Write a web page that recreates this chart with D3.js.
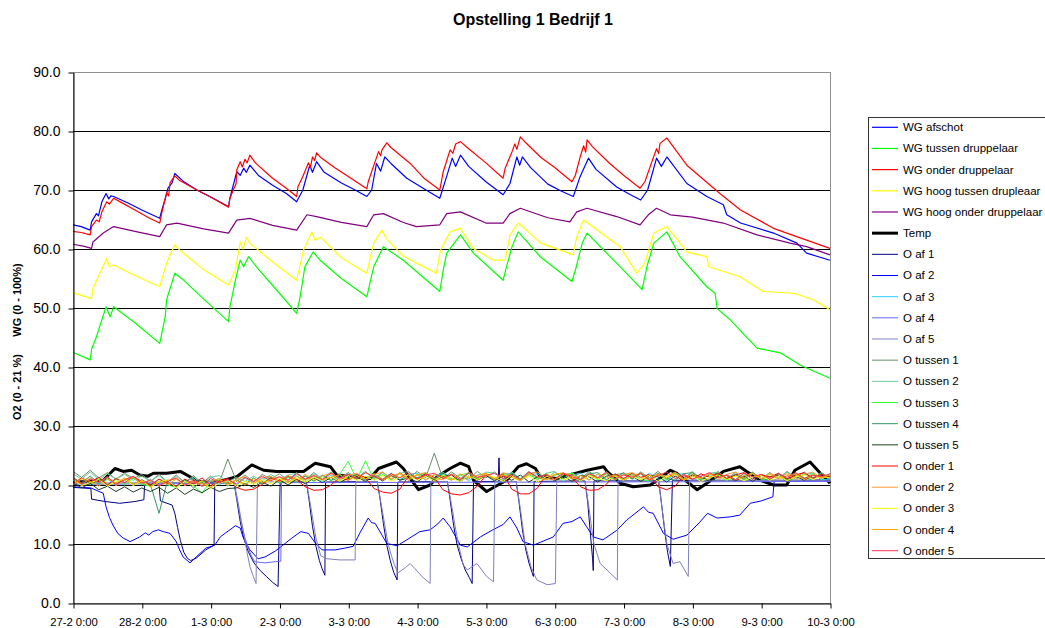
<!DOCTYPE html>
<html>
<head>
<meta charset="utf-8">
<script src="https://cdn.jsdelivr.net/npm/d3@7"></script>
<style>
body { margin: 0; background: #fff; }
text { font-family: Arial, "Liberation Sans", sans-serif; }
</style>
</head>
<body>
<svg id="chart" width="1045" height="628"></svg>
<script>
// times are in days after 27-2 0:00
var wgAfschot = [[0,64.1],[0.12,63.8],[0.25,63.2],[0.27,64.6],[0.34,66.0],[0.37,65.6],[0.42,68.0],[0.48,69.4],[0.52,68.5],[0.55,69.0],[0.59,68.9],[0.8,67.8],[1.0,66.6],[1.26,65.2],[1.29,66.6],[1.34,68.5],[1.38,70.3],[1.44,71.2],[1.48,72.8],[1.6,71.5],[1.8,70.0],[2.0,68.8],[2.26,67.2],[2.28,68.6],[2.38,73.1],[2.43,72.5],[2.48,73.7],[2.52,73.0],[2.57,74.2],[2.7,72.4],[2.9,70.8],[3.1,69.4],[3.25,68.0],[3.34,70.0],[3.44,74.2],[3.48,73.0],[3.54,74.8],[3.65,73.0],[3.9,71.2],[4.1,70.0],[4.27,68.9],[4.34,70.0],[4.41,74.5],[4.47,73.2],[4.53,75.6],[4.62,74.5],[4.85,72.0],[5.1,70.2],[5.33,68.6],[5.43,72.3],[5.51,75.4],[5.56,74.0],[5.63,75.9],[5.75,74.0],[6.0,71.4],[6.25,69.2],[6.35,71.1],[6.45,75.6],[6.49,74.2],[6.53,75.6],[6.65,73.8],[6.9,71.0],[7.1,69.8],[7.27,68.9],[7.37,72.3],[7.49,75.4],[7.6,73.5],[7.9,70.5],[8.1,69.2],[8.25,68.3],[8.35,70.0],[8.48,75.4],[8.55,74.0],[8.63,75.6],[8.92,71.1],[9.21,68.9],[9.45,67.5],[9.5,65.8],[9.7,64.4],[10.18,62.7],[10.52,61.0],[10.66,59.3],[11.0,58.1]];
var wgTussen = [[0,42.5],[0.25,41.2],[0.27,43.0],[0.34,45.1],[0.42,48.0],[0.48,50.2],[0.54,48.5],[0.59,50.2],[0.9,47.5],[1.26,44.0],[1.34,48.5],[1.36,51.4],[1.48,55.9],[1.6,54.8],[1.9,51.5],[2.26,47.7],[2.28,50.2],[2.36,54.7],[2.43,58.1],[2.48,57.0],[2.55,58.7],[2.7,56.5],[3.0,52.5],[3.25,49.1],[3.3,51.9],[3.37,57.0],[3.49,59.5],[3.6,58.0],[3.9,55.0],[4.27,51.9],[4.37,57.0],[4.51,60.4],[4.8,58.1],[5.33,52.8],[5.38,56.4],[5.43,59.3],[5.63,62.4],[5.82,59.3],[6.25,54.7],[6.3,57.0],[6.38,60.4],[6.47,62.9],[6.79,58.7],[7.25,54.5],[7.3,56.4],[7.4,61.0],[7.47,62.7],[7.95,57.0],[8.27,53.1],[8.34,57.0],[8.44,61.0],[8.63,62.9],[8.82,58.7],[9.21,53.6],[9.33,52.5],[9.36,49.9],[9.55,48.0],[9.94,43.2],[10.28,42.4],[10.57,40.3],[11.0,38.1]];
var wgOnder = [[0,63.0],[0.12,62.8],[0.25,62.4],[0.27,63.8],[0.34,64.9],[0.38,64.6],[0.42,66.3],[0.49,68.0],[0.53,67.6],[0.59,68.6],[0.7,67.9],[0.9,66.6],[1.1,65.3],[1.26,64.4],[1.29,66.1],[1.36,69.5],[1.39,69.0],[1.41,71.2],[1.48,72.4],[1.55,71.6],[1.8,70.0],[2.0,68.8],[2.26,67.1],[2.28,68.6],[2.37,71.1],[2.38,73.4],[2.43,74.8],[2.46,73.9],[2.5,75.2],[2.53,74.6],[2.57,75.9],[2.65,74.6],[2.9,72.0],[3.1,70.3],[3.25,68.9],[3.27,70.6],[3.34,72.3],[3.42,74.6],[3.45,73.8],[3.48,75.6],[3.51,75.0],[3.54,76.3],[3.6,75.5],[3.8,73.8],[4.0,72.3],[4.27,70.2],[4.29,71.4],[4.39,74.8],[4.44,76.5],[4.47,75.8],[4.49,76.8],[4.56,78.0],[4.62,77.2],[4.9,74.5],[5.1,72.0],[5.33,70.0],[5.38,73.1],[5.48,76.8],[5.52,76.2],[5.56,77.8],[5.63,78.2],[5.75,77.0],[6.0,74.6],[6.25,72.0],[6.28,73.7],[6.38,76.5],[6.42,77.8],[6.45,76.9],[6.5,79.0],[6.58,78.0],[6.8,75.5],[7.0,73.8],[7.25,71.4],[7.3,72.5],[7.37,75.6],[7.42,77.5],[7.45,76.4],[7.47,78.5],[7.55,77.3],[7.8,74.5],[8.0,72.5],[8.24,70.3],[8.31,71.4],[8.43,75.4],[8.48,77.0],[8.51,76.2],[8.53,77.9],[8.63,78.8],[8.92,74.2],[9.4,69.4],[9.7,66.6],[10.18,63.5],[10.66,61.5],[11.0,60.1]];
var wgHoogTussen = [[0,52.6],[0.27,51.6],[0.29,53.3],[0.39,55.9],[0.49,58.4],[0.53,57.0],[0.59,57.3],[0.9,55.5],[1.26,53.6],[1.36,57.6],[1.43,59.5],[1.48,60.7],[1.55,59.8],[1.9,56.5],[2.26,53.9],[2.36,56.4],[2.43,61.2],[2.47,60.0],[2.52,62.0],[2.57,61.0],[2.9,57.8],[3.25,54.7],[3.35,59.8],[3.47,62.9],[3.52,61.5],[3.6,62.0],[3.9,58.5],[4.27,55.9],[4.37,61.0],[4.49,63.2],[4.55,61.8],[4.8,58.8],[4.99,57.6],[5.28,55.9],[5.34,59.8],[5.48,62.9],[5.63,63.5],[5.82,60.1],[6.11,58.1],[6.28,58.1],[6.35,62.4],[6.47,64.4],[6.8,61.0],[7.27,59.0],[7.32,62.1],[7.42,64.9],[7.95,60.4],[8.19,55.9],[8.31,57.6],[8.44,62.7],[8.63,63.8],[8.92,59.5],[9.21,58.7],[9.24,57.0],[9.69,55.3],[10.03,52.8],[10.47,52.5],[10.76,51.4],[11.0,49.7]];
var wgHoogOnder = [[0,60.8],[0.15,60.5],[0.27,60.1],[0.29,61.2],[0.44,62.7],[0.59,63.8],[0.9,63.0],[1.26,62.1],[1.36,64.1],[1.51,64.4],[1.9,63.4],[2.26,62.7],[2.38,64.9],[2.57,65.2],[2.9,64.0],[3.25,63.2],[3.4,65.8],[3.54,65.5],[3.9,64.5],[4.27,63.8],[4.37,65.8],[4.51,66.0],[4.8,64.5],[4.99,63.8],[5.33,64.1],[5.43,66.0],[5.63,66.3],[6.0,64.4],[6.25,64.4],[6.35,66.0],[6.5,66.9],[6.9,65.3],[7.22,64.6],[7.32,66.3],[7.47,66.9],[7.9,65.5],[8.24,64.1],[8.36,65.8],[8.48,66.9],[8.68,65.8],[9.0,65.4],[9.45,64.4],[9.94,62.4],[10.42,61.0],[10.66,60.4],[11.0,59.0]];
var temp = [[0,20.5],[0.25,20.6],[0.44,20.8],[0.61,22.8],[0.73,22.3],[0.85,22.5],[0.97,21.7],[1.09,21.5],[1.17,22.0],[1.36,22.0],[1.56,22.3],[1.7,21.4],[1.8,20.6],[2.06,20.4],[2.38,21.4],[2.6,23.4],[2.77,22.5],[2.96,22.3],[3.35,22.3],[3.52,23.7],[3.74,23.1],[3.83,21.7],[4.32,21.1],[4.44,22.8],[4.7,23.9],[4.8,22.8],[4.9,21.1],[5.02,19.2],[5.19,20.0],[5.29,21.4],[5.48,22.8],[5.63,23.7],[5.75,23.1],[5.82,20.8],[6.01,18.9],[6.13,19.7],[6.3,20.8],[6.47,23.1],[6.59,23.6],[6.72,22.8],[6.79,21.4],[7.03,21.1],[7.47,22.5],[7.71,23.1],[7.76,22.3],[7.95,20.3],[8.14,19.7],[8.39,20.0],[8.56,21.4],[8.68,22.5],[8.77,22.0],[8.92,20.6],[9.07,19.2],[9.21,20.3],[9.45,22.3],[9.69,23.1],[9.79,22.3],[9.99,20.8],[10.18,20.0],[10.37,20.0],[10.49,22.5],[10.71,23.9],[10.86,22.0],[11.0,20.3]];

var oAf1 = [[0,19.6],[0.26,19.4],[0.27,17.6],[0.47,17.2],[0.68,16.9],[0.9,17.2],[1.03,17.5],[1.04,20.0],[1.25,20.2],[1.27,17.3],[1.44,16.6],[1.48,15.2],[1.52,12.8],[1.56,10.6],[1.61,8.6],[1.66,7.6],[1.71,7.2],[1.79,7.6],[1.93,9.0],[2.05,9.8],[2.06,20.3],[2.34,20.4],[2.38,17.5],[2.43,13.8],[2.48,11.0],[2.55,8.6],[2.63,6.8],[2.72,5.5],[2.81,4.5],[2.9,3.5],[2.98,2.8],[3.01,20.5],[3.39,20.6],[3.43,17.5],[3.48,13.0],[3.53,9.6],[3.58,7.2],[3.62,5.8],[3.66,4.7],[3.67,20.5],[4.42,20.6],[4.46,17.8],[4.51,13.5],[4.56,9.8],[4.61,7.2],[4.66,5.2],[4.71,3.9],[4.72,20.5],[5.44,20.6],[5.48,17.5],[5.53,13.2],[5.58,9.9],[5.64,7.5],[5.7,5.6],[5.76,4.3],[5.8,3.3],[5.82,20.6],[6.18,20.6],[6.19,24.6],[6.2,20.6],[6.44,20.6],[6.48,17.2],[6.53,12.5],[6.58,9.0],[6.63,6.6],[6.69,4.5],[6.7,20.6],[7.44,20.7],[7.48,17.0],[7.52,11.5],[7.55,7.5],[7.56,5.5],[7.57,20.7],[8.51,20.7],[8.55,17.0],[8.6,12.0],[8.64,8.6],[8.68,6.2],[8.71,20.8],[11.0,20.8]];
var oAf2 = [[0,19.7],[0.26,19.5],[0.44,18.6],[0.48,16.3],[0.53,14.5],[0.58,13.2],[0.65,11.8],[0.73,11.0],[0.83,10.4],[0.97,11.2],[1.05,11.9],[1.1,11.5],[1.16,12.1],[1.24,12.4],[1.31,12.1],[1.41,11.8],[1.5,10.4],[1.55,9.0],[1.6,7.8],[1.7,6.8],[1.79,7.8],[1.93,9.3],[2.06,9.8],[2.14,11.2],[2.22,11.9],[2.28,12.4],[2.36,13.1],[2.43,12.7],[2.47,11.2],[2.57,9.0],[2.69,7.5],[2.79,7.8],[2.94,8.8],[3.05,9.8],[3.18,11.0],[3.31,12.1],[3.42,11.8],[3.52,10.2],[3.62,9.0],[3.81,9.0],[3.95,9.3],[4.07,9.6],[4.17,11.9],[4.29,14.4],[4.34,13.6],[4.39,13.5],[4.49,11.5],[4.56,10.1],[4.71,9.7],[4.85,10.7],[5.04,12.1],[5.19,12.4],[5.3,13.4],[5.38,14.4],[5.48,12.9],[5.63,9.8],[5.73,9.5],[5.92,11.2],[6.1,12.4],[6.25,13.3],[6.35,14.6],[6.45,12.7],[6.54,10.4],[6.69,9.8],[6.98,11.2],[7.12,13.5],[7.25,13.8],[7.37,14.6],[7.46,13.0],[7.56,11.2],[7.7,10.7],[7.9,12.3],[8.05,14.1],[8.29,16.3],[8.36,15.4],[8.43,15.2],[8.58,11.8],[8.72,10.8],[8.92,11.5],[9.1,13.6],[9.22,15.2],[9.36,14.4],[9.55,14.6],[9.69,14.9],[9.84,16.9],[10.0,17.3],[10.17,18.0],[10.19,20.8],[10.57,20.6],[11.0,21.0]];
var oAf4 = [[0,20.1],[2.34,20.3],[2.39,17.2],[2.44,14.0],[2.49,11.4],[2.54,9.5],[2.6,7.8],[2.64,7.0],[2.79,6.8],[2.94,7.0],[3.02,7.1],[3.03,20.4],[11.0,20.6]];
var oAf5 = [[0,20.3],[2.34,20.5],[2.4,17.0],[2.45,13.6],[2.49,11.2],[2.53,8.5],[2.57,6.2],[2.62,4.5],[2.66,3.3],[2.68,20.5],[3.39,20.6],[3.46,16.0],[3.53,11.0],[3.6,8.0],[3.69,7.5],[3.88,7.3],[4.1,7.3],[4.11,20.6],[4.42,20.6],[4.49,16.0],[4.54,12.6],[4.58,10.0],[4.63,7.9],[4.67,6.5],[4.72,5.1],[4.83,6.0],[4.9,6.7],[4.97,5.8],[5.07,4.5],[5.19,3.3],[5.2,20.6],[5.44,20.6],[5.51,16.0],[5.56,12.5],[5.6,10.0],[5.67,6.5],[5.73,5.6],[5.87,6.7],[6.01,4.5],[6.11,3.6],[6.13,20.6],[6.44,20.6],[6.5,16.0],[6.54,12.6],[6.57,10.0],[6.66,6.0],[6.74,3.9],[6.89,3.1],[7.01,3.3],[7.03,20.6],[7.44,20.7],[7.5,16.0],[7.54,12.4],[7.57,10.0],[7.66,6.7],[7.76,5.6],[7.91,3.9],[7.92,20.7],[8.51,20.7],[8.56,16.0],[8.63,10.0],[8.72,6.7],[8.82,7.0],[8.94,4.5],[8.96,20.7],[11.0,20.8]];

// logged every 3 hours
var oAf3 = [20.9,20.0,21.1,20.1,21.0,19.9,20.8,21.2,20.0,21.0,20.0,20.9,19.8,20.7,21.1,19.9,20.8,20.0,21.0,20.0,21.2,20.2,21.1,21.4,20.3,21.3,21.6,20.5,21.5,20.6,21.7,20.7,21.6,21.8,20.8,21.7,20.7,21.9,20.9,21.8,22.0,20.8,21.7,21.9,20.9,21.8,20.7,21.7,21.9,20.9,21.8,22.0,20.8,21.7,21.9,20.9,21.8,20.7,21.7,22.0,20.9,21.8,20.8,21.9,21.0,21.8,20.9,22.0,21.0,20.8,21.8,21.9,20.9,21.0,22.0,20.8,21.8,20.9,21.9,21.0,21.8,20.9,21.9,21.0,20.8,21.8,22.0,20.9,21.0];
var oTussen1 = [22.3,21.3,22.5,21.2,22.1,21.0,22.0,21.1,21.8,20.6,21.8,20.5,21.7,20.4,21.6,20.3,21.5,20.4,24.4,20.6,21.7,20.5,21.8,21.0,21.9,20.8,22.1,20.9,22.1,21.0,22.2,21.1,22.1,21.2,22.3,21.1,22.2,21.0,22.1,21.1,22.3,21.2,25.4,21.1,22.2,21.2,21.0,22.3,21.2,22.2,21.1,22.1,21.0,22.3,21.2,20.9,22.2,21.1,22.1,21.0,22.3,21.2,22.2,21.1,22.1,21.0,22.2,21.2,22.3,21.1,22.1,20.9,22.2,21.2,21.0,22.3,21.1,22.1,21.2,22.2,21.0,22.1,21.1,22.3,21.2,22.2,21.0,22.1,21.2];
var oTussen2 = [21.9,21.0,22.2,20.9,21.9,21.0,21.8,20.8,21.5,20.6,21.6,20.4,21.5,20.3,21.4,20.2,21.3,21.6,20.5,21.3,20.6,21.5,20.7,21.8,20.8,21.7,22.0,20.9,21.9,21.0,22.1,21.1,22.0,21.1,22.2,21.0,22.1,20.9,22.0,22.3,21.1,22.1,21.0,22.2,21.1,20.9,22.1,21.2,22.2,22.0,21.0,22.2,21.1,22.1,20.9,22.0,22.3,21.0,22.1,21.1,22.2,21.0,22.0,20.9,22.1,21.1,22.2,21.0,22.0,20.9,22.1,21.1,22.3,21.0,22.0,22.2,20.9,22.1,21.1,22.0,21.0,22.1,21.1,22.2,21.0,22.0,20.9,22.1,21.1];
var oTussen3 = [20.2,21.2,20.1,21.1,19.9,21.0,20.0,21.2,20.1,19.8,21.0,20.0,19.6,20.9,19.8,18.6,20.7,21.0,19.8,20.9,20.0,21.2,20.2,21.4,20.4,21.3,20.5,21.6,20.6,21.5,20.7,21.8,24.0,20.9,24.1,20.8,21.8,20.9,22.0,20.8,21.7,22.0,20.9,21.8,20.8,21.7,22.0,20.9,21.8,20.8,21.9,21.7,20.7,21.8,20.9,22.0,20.8,21.7,22.0,20.7,21.8,20.9,21.9,20.8,21.7,21.9,20.9,20.7,21.8,21.0,22.0,20.8,21.8,20.9,21.9,21.7,20.7,21.8,20.9,21.9,21.0,20.9,21.9,20.8,21.8,21.0,22.0,20.9,21.8];
var oTussen4 = [21.2,20.4,21.5,20.3,21.2,20.2,21.0,19.9,20.9,20.1,15.2,20.8,19.7,20.9,19.5,20.7,19.6,20.8,20.2,20.9,20.1,21.2,20.2,21.3,20.4,21.5,20.6,21.5,20.7,21.7,20.8,21.6,21.1,21.8,20.9,21.9,21.0,22.0,20.8,21.8,21.2,21.9,20.9,22.1,21.1,20.8,22.0,21.0,21.8,21.1,20.8,22.0,21.0,21.9,22.2,20.9,21.7,22.0,21.0,20.8,21.9,22.1,20.9,21.7,22.0,21.0,21.9,20.8,22.0,21.1,20.8,21.9,22.1,21.0,21.7,22.0,20.9,21.8,21.0,22.1,21.1,20.9,21.9,21.0,22.0,21.2,20.9,21.9,21.0];
var oTussen5 = [20.4,19.5,20.3,19.2,19.8,18.9,19.7,18.8,19.5,18.9,19.6,18.6,19.5,18.4,19.3,18.7,19.6,18.9,19.4,19.5,20.2,19.6,20.5,19.8,20.9,20.0,21.0,20.2,21.2,20.4,21.3,20.5,21.1,21.4,20.6,21.5,20.7,21.6,20.8,21.2,20.5,21.6,20.8,21.4,21.7,20.6,21.5,20.8,21.6,20.7,21.5,20.8,21.7,20.5,21.4,21.6,20.7,21.5,20.6,21.6,21.4,20.5,21.5,21.7,20.8,21.5,20.6,21.6,21.4,20.5,21.5,20.8,21.7,21.4,20.6,21.5,21.6,20.7,21.5,20.6,21.6,21.4,21.6,20.6,21.5,20.8,21.6,21.4,21.5];
var oOnder1 = [20.2,21.2,20.5,21.3,20.0,21.1,20.4,21.4,20.6,20.0,21.0,20.3,19.8,21.0,20.2,21.2,19.9,20.7,21.1,19.6,19.1,19.3,20.1,21.2,20.7,21.5,20.9,19.7,19.1,19.2,20.0,21.3,20.8,21.7,21.2,19.4,18.8,18.6,19.3,21.5,21.0,21.9,21.3,19.2,18.5,18.3,18.7,19.8,21.7,21.1,21.9,19.3,18.5,18.5,19.5,21.8,21.0,21.9,21.2,19.7,19.1,19.2,20.1,21.9,21.1,22.0,21.3,21.8,19.7,19.2,19.8,21.6,21.0,21.9,21.3,22.0,21.1,21.7,22.1,21.0,21.8,21.3,22.0,21.0,21.7,22.1,21.2,21.8,21.4];
var oOnder2 = [21.1,20.1,21.2,20.4,21.4,19.9,20.9,21.3,20.2,20.9,19.8,20.8,21.1,19.9,21.0,19.7,20.6,21.1,19.9,21.0,21.4,20.3,21.2,21.5,20.5,21.6,20.7,21.8,20.8,21.6,21.9,20.9,21.7,22.0,21.0,21.8,22.2,21.0,21.9,20.8,21.8,22.1,21.1,20.9,21.9,21.0,22.2,21.2,21.9,21.0,22.1,21.6,20.9,21.9,22.2,21.1,20.9,22.0,21.7,20.9,21.9,21.2,22.2,21.0,21.8,22.1,21.2,20.9,21.9,21.5,22.2,21.0,21.9,21.1,22.0,20.9,21.8,22.2,21.1,21.9,21.0,22.0,21.2,21.9,20.9,21.8,22.2,21.1,21.9];
var oOnder3 = [20.8,19.9,20.4,20.9,19.8,20.6,21.0,19.9,20.7,19.6,20.5,20.9,19.5,20.6,19.9,20.7,19.4,20.3,20.8,19.8,20.7,20.1,20.9,20.2,21.1,20.3,21.2,20.5,21.3,20.8,21.4,20.6,21.5,20.7,21.5,20.8,21.6,20.6,21.4,21.7,20.8,21.5,20.7,21.6,21.2,20.6,21.5,20.9,21.7,21.3,20.6,21.6,20.9,21.5,20.5,21.4,21.8,20.8,21.5,20.7,21.6,21.1,20.7,21.5,20.8,21.5,20.9,21.7,20.6,21.4,21.8,20.8,21.5,20.6,21.3,21.7,20.9,21.5,20.7,21.4,21.6,20.8,21.5,20.7,21.4,21.7,20.9,21.5,21.2];
var oOnder4 = [20.0,21.1,20.6,19.8,21.0,20.3,21.2,20.1,20.8,19.7,20.7,20.1,21.0,19.9,20.6,20.2,19.6,20.9,20.3,20.8,20.0,21.1,20.4,20.9,21.4,20.5,21.5,20.8,21.6,20.9,21.3,21.8,20.9,21.6,21.0,21.9,20.8,21.5,22.0,21.1,21.7,20.9,21.8,21.3,20.8,21.9,21.2,21.6,22.0,21.0,21.7,21.3,20.7,21.9,21.4,20.9,21.8,22.1,21.0,21.6,20.8,21.9,21.2,21.7,20.9,21.6,22.0,21.0,21.8,21.2,21.9,20.8,21.5,21.1,21.9,21.3,21.7,20.9,21.6,22.0,21.1,21.8,21.0,21.6,21.9,20.9,21.7,21.2,21.8];
var oOnder5 = [21.3,20.2,21.0,20.5,21.4,20.1,20.9,21.5,20.3,20.8,19.9,20.6,21.2,20.0,20.7,19.8,21.1,20.4,20.9,20.2,21.3,20.6,21.5,20.7,21.4,20.8,21.9,21.0,21.6,20.9,22.0,21.2,21.8,21.0,22.1,21.4,20.9,21.9,21.2,22.2,21.0,21.7,22.0,21.1,21.8,20.9,22.1,21.3,21.6,22.0,21.1,21.7,20.9,22.2,21.3,21.8,21.0,22.0,21.4,20.9,21.9,21.2,22.1,21.0,21.7,21.3,22.0,20.9,21.6,22.2,21.1,21.8,21.0,21.5,22.1,21.2,21.7,20.9,22.0,21.4,21.8,21.0,21.9,21.3,22.1,21.1,21.7,21.4,21.9];

var yTicks = [0, 10, 20, 30, 40, 50, 60, 70, 80, 90];
var gridValues = [10, 20, 30, 40, 50, 60, 70, 80];

var bandStep = 0.125;
function band(values) {
	return values.map(function(v, i) { return [i * bandStep, v]; });
}

var series = [
	{ name: "WG afschot", color: "#0000ff", width: 1.2, data: wgAfschot },
	{ name: "WG tussen druppelaar", color: "#00ff00", width: 1.2, data: wgTussen },
	{ name: "WG onder druppelaar", color: "#ff0000", width: 1.2, data: wgOnder },
	{ name: "WG hoog tussen drupleaar", color: "#ffff00", width: 1.2, data: wgHoogTussen },
	{ name: "WG hoog onder druppelaar", color: "#800080", width: 1.2, data: wgHoogOnder },
	{ name: "Temp", color: "#000000", width: 3, data: temp },
	{ name: "O af 1", color: "#000080", width: 1, data: oAf1 },
	{ name: "O af 2", color: "#0000ff", width: 1, data: oAf2 },
	{ name: "O af 3", color: "#33ccff", width: 1, data: band(oAf3) },
	{ name: "O af 4", color: "#6666ff", width: 1, data: oAf4 },
	{ name: "O af 5", color: "#8080c0", width: 1, data: oAf5 },
	{ name: "O tussen 1", color: "#6b8e6b", width: 1, data: band(oTussen1) },
	{ name: "O tussen 2", color: "#66cc99", width: 1, data: band(oTussen2) },
	{ name: "O tussen 3", color: "#33ff33", width: 1, data: band(oTussen3) },
	{ name: "O tussen 4", color: "#339966", width: 1, data: band(oTussen4) },
	{ name: "O tussen 5", color: "#1f3f1f", width: 1, data: band(oTussen5) },
	{ name: "O onder 1", color: "#ff0000", width: 1, data: band(oOnder1) },
	{ name: "O onder 2", color: "#ff9933", width: 1, data: band(oOnder2) },
	{ name: "O onder 3", color: "#ffff00", width: 1, data: band(oOnder3) },
	{ name: "O onder 4", color: "#ffaa00", width: 1, data: band(oOnder4) },
	{ name: "O onder 5", color: "#ff3355", width: 1, data: band(oOnder5) }
];

var start = Date.UTC(2007, 1, 27);
function toDate(day) { return new Date(start + day * 864e5); }

var svg = d3.select("#chart");
var plotLeft = 73, plotRight = 830, plotTop = 72, plotBottom = 603;

var x = d3.scaleUtc().domain([toDate(0), toDate(11)]).range([plotLeft, plotRight]);
var y = d3.scaleLinear().domain([0, 90]).range([plotBottom, plotTop]);

svg.append("rect").attr("width", 1045).attr("height", 628).attr("fill", "#fff");

// plot frame and gridlines
svg.append("rect")
	.attr("x", plotLeft + 0.5).attr("y", plotTop + 0.5)
	.attr("width", plotRight - plotLeft).attr("height", plotBottom - plotTop)
	.attr("fill", "none").attr("stroke", "#909090");

svg.append("g").selectAll("line").data(gridValues).enter().append("line")
	.attr("x1", plotLeft).attr("x2", plotRight)
	.attr("y1", function(d) { return Math.round(y(d)) + 0.5; })
	.attr("y2", function(d) { return Math.round(y(d)) + 0.5; })
	.attr("stroke", "#000").attr("stroke-width", 1);

var line = d3.line()
	.x(function(d) { return x(toDate(d[0])); })
	.y(function(d) { return y(d[1]); });

svg.append("g").selectAll("path").data(series).enter().append("path")
	.attr("d", function(s) { return line(s.data); })
	.attr("fill", "none")
	.attr("stroke", function(s) { return s.color; })
	.attr("stroke-width", function(s) { return s.width; })
	.attr("stroke-linejoin", "round");

// axes
var yAxis = d3.axisLeft(y).tickValues(yTicks).tickSize(5).tickSizeOuter(0)
	.tickPadding(8).tickFormat(d3.format(".1f"));
var gy = svg.append("g").attr("transform", "translate(" + (plotLeft + 0.5) + ",0.5)").call(yAxis);
gy.selectAll("text").attr("font-size", "14px").attr("fill", "#000")
	.style("font-family", "Arial, 'Liberation Sans', sans-serif");
gy.selectAll("line, path").attr("stroke", "#000");

var xAxis = d3.axisBottom(x).ticks(d3.utcDay.every(1)).tickSize(5).tickSizeOuter(0)
	.tickPadding(9).tickFormat(d3.utcFormat("%-d-%-m %-H:%M"));
var gx = svg.append("g").attr("transform", "translate(0.5," + (plotBottom + 0.5) + ")").call(xAxis);
gx.selectAll("text").attr("font-size", "11.3px").attr("fill", "#000")
	.style("font-family", "Arial, 'Liberation Sans', sans-serif");
gx.selectAll("line, path").attr("stroke", "#000");

// titles
svg.append("text").attr("x", 533).attr("y", 25).attr("text-anchor", "middle")
	.attr("font-size", "16px").attr("font-weight", "bold").text("Opstelling 1 Bedrijf 1");

svg.append("text").attr("transform", "translate(21,300) rotate(-90)").attr("text-anchor", "middle")
	.attr("font-size", "11px").attr("font-weight", "bold").text("WG (0 - 100%)");
svg.append("text").attr("transform", "translate(21,387) rotate(-90)").attr("text-anchor", "middle")
	.attr("font-size", "11px").attr("font-weight", "bold").text("O2 (0 - 21 %)");

// legend
var legend = svg.append("g");
legend.append("rect").attr("x", 868.5).attr("y", 117.5).attr("width", 200).attr("height", 441)
	.attr("fill", "#fff").attr("stroke", "#333");

var item = legend.selectAll("g.item").data(series).enter().append("g")
	.attr("class", "item")
	.attr("transform", function(s, i) { return "translate(0," + (127.3 + i * 21.17) + ")"; });
item.append("line").attr("x1", 872).attr("x2", 898).attr("y1", 0).attr("y2", 0)
	.attr("stroke", function(s) { return s.color; })
	.attr("stroke-width", function(s) { return s.width; });
item.append("text").attr("x", 903).attr("y", 4).attr("font-size", "11.5px").attr("fill", "#000")
	.text(function(s) { return s.name; });
</script>
</body>
</html>
